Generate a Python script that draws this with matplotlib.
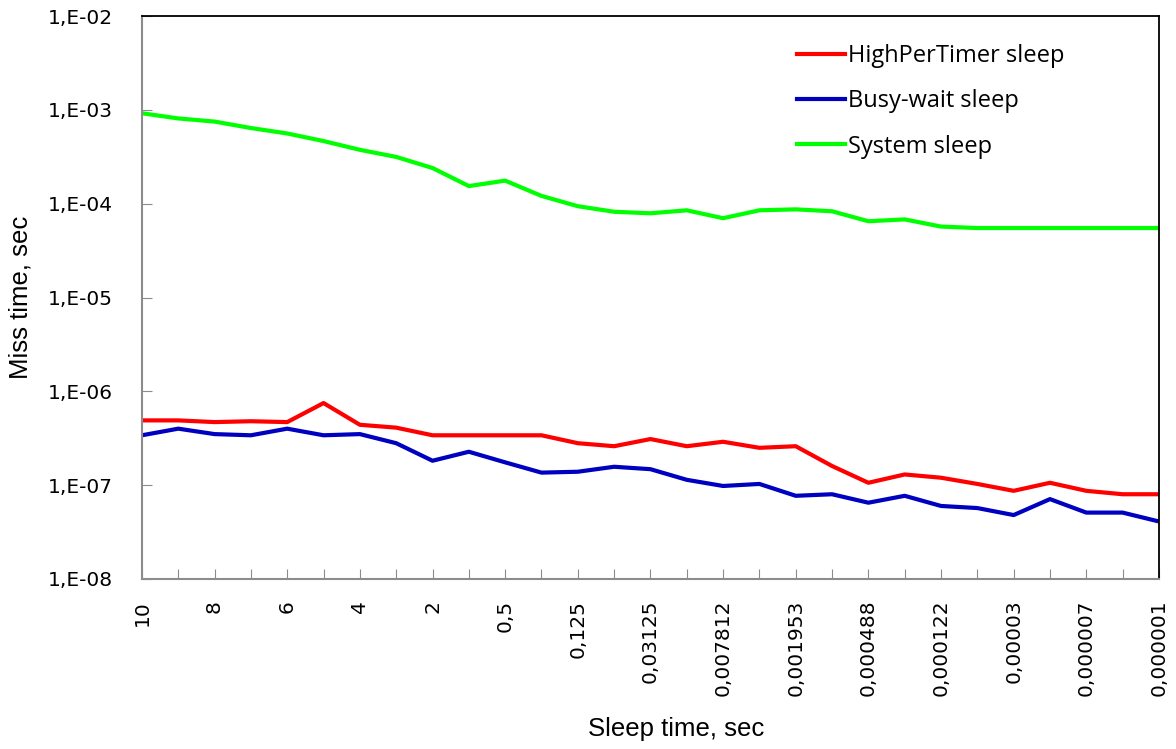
import numpy as np
import matplotlib.pyplot as plt
from matplotlib.ticker import FixedLocator, FuncFormatter

# sleep durations requested (sec), as printed on the axis
sleep_labels = ["10", "9", "8", "7", "6", "5", "4", "3", "2", "1",
                "0,5", "0,25", "0,125", "0,0625", "0,03125", "0,015625",
                "0,007812", "0,003906", "0,001953", "0,000976", "0,000488",
                "0,000244", "0,000122", "0,000061", "0,00003", "0,000015",
                "0,000007", "0,000003", "0,000001"]

# miss time (sec) for each sleep method
high_per_timer = [4.9e-7, 4.9e-7, 4.7e-7, 4.8e-7, 4.7e-7, 7.5e-7, 4.4e-7, 4.1e-7,
                  3.4e-7, 3.4e-7, 3.4e-7, 3.4e-7, 2.8e-7, 2.6e-7, 3.1e-7, 2.6e-7,
                  2.9e-7, 2.5e-7, 2.6e-7, 1.6e-7, 1.06e-7, 1.3e-7, 1.2e-7, 1.03e-7,
                  8.7e-8, 1.06e-7, 8.7e-8, 8.0e-8, 8.0e-8]
busy_wait = [3.4e-7, 4.0e-7, 3.5e-7, 3.4e-7, 4.0e-7, 3.4e-7, 3.5e-7, 2.8e-7,
             1.82e-7, 2.27e-7, 1.75e-7, 1.36e-7, 1.39e-7, 1.57e-7, 1.48e-7, 1.14e-7,
             9.8e-8, 1.03e-7, 7.7e-8, 8.0e-8, 6.5e-8, 7.7e-8, 6.0e-8, 5.7e-8,
             4.8e-8, 7.1e-8, 5.1e-8, 5.1e-8, 4.1e-8]
system_sleep = [9.2e-4, 8.1e-4, 7.5e-4, 6.4e-4, 5.6e-4, 4.65e-4, 3.75e-4, 3.15e-4,
                2.4e-4, 1.54e-4, 1.76e-4, 1.21e-4, 9.4e-5, 8.2e-5, 7.9e-5, 8.5e-5,
                7.0e-5, 8.5e-5, 8.7e-5, 8.3e-5, 6.5e-5, 6.8e-5, 5.7e-5, 5.5e-5,
                5.5e-5, 5.5e-5, 5.5e-5, 5.5e-5, 5.5e-5]

plt.rcParams['font.family'] = ['Open Sans', 'DejaVu Sans']

fig = plt.figure(figsize=(11.76, 7.49), dpi=100)
ax = fig.add_axes([0.1207, 0.2270, 0.8648, 0.7516])

x = np.arange(len(sleep_labels))
ax.plot(x, high_per_timer, color="#ff0000", lw=3.0, label="HighPerTimer sleep")
ax.plot(x, busy_wait, color="#0000c0", lw=3.0, label="Busy-wait sleep")
ax.plot(x, system_sleep, color="#00ff00", lw=3.0, label="System sleep")

ax.set_yscale("log")
ax.set_ylim(1e-8, 1e-2)
ax.set_xlim(0, len(sleep_labels) - 1)

ax.yaxis.set_major_locator(FixedLocator([10.0 ** e for e in range(-8, -1)]))
ax.yaxis.set_minor_locator(FixedLocator([]))
ax.yaxis.set_major_formatter(FuncFormatter(lambda v, p: "1,E-%02d" % round(-np.log10(v))))

# every sleep value gets a tick, only every other one a label
ax.set_xticks(x)
ax.set_xticklabels([s if i % 2 == 0 else "" for i, s in enumerate(sleep_labels)],
                   rotation=90, va="top", ha="center")

ax.tick_params(axis="both", direction="in", length=7, color="#8c8c8c")
ax.tick_params(axis="x", pad=15)
ax.tick_params(axis="y", pad=21)
for lbl in ax.get_xticklabels() + ax.get_yticklabels():
    lbl.set_family("DejaVu Sans")
    lbl.set_fontsize(14.5)

for side in ["left", "bottom"]:
    ax.spines[side].set_color("#8c8c8c")
    ax.spines[side].set_linewidth(1.5)
for side in ["top", "right"]:
    ax.spines[side].set_color("black")
    ax.spines[side].set_linewidth(1.3)

ax.set_ylabel("Miss time, sec", fontsize=18.5, family="Liberation Sans", labelpad=11)
ax.set_xlabel("Sleep time, sec", fontsize=18.5, family="Liberation Sans")
ax.xaxis.set_label_coords(0.525, -0.245)

ax.legend(loc="upper left", bbox_to_anchor=(0.644, 0.950), frameon=False, fontsize=17,
          borderpad=0, borderaxespad=0, handlelength=2.05, handletextpad=0.1,
          labelspacing=0.9)

fig.savefig("out.png", dpi=100)
